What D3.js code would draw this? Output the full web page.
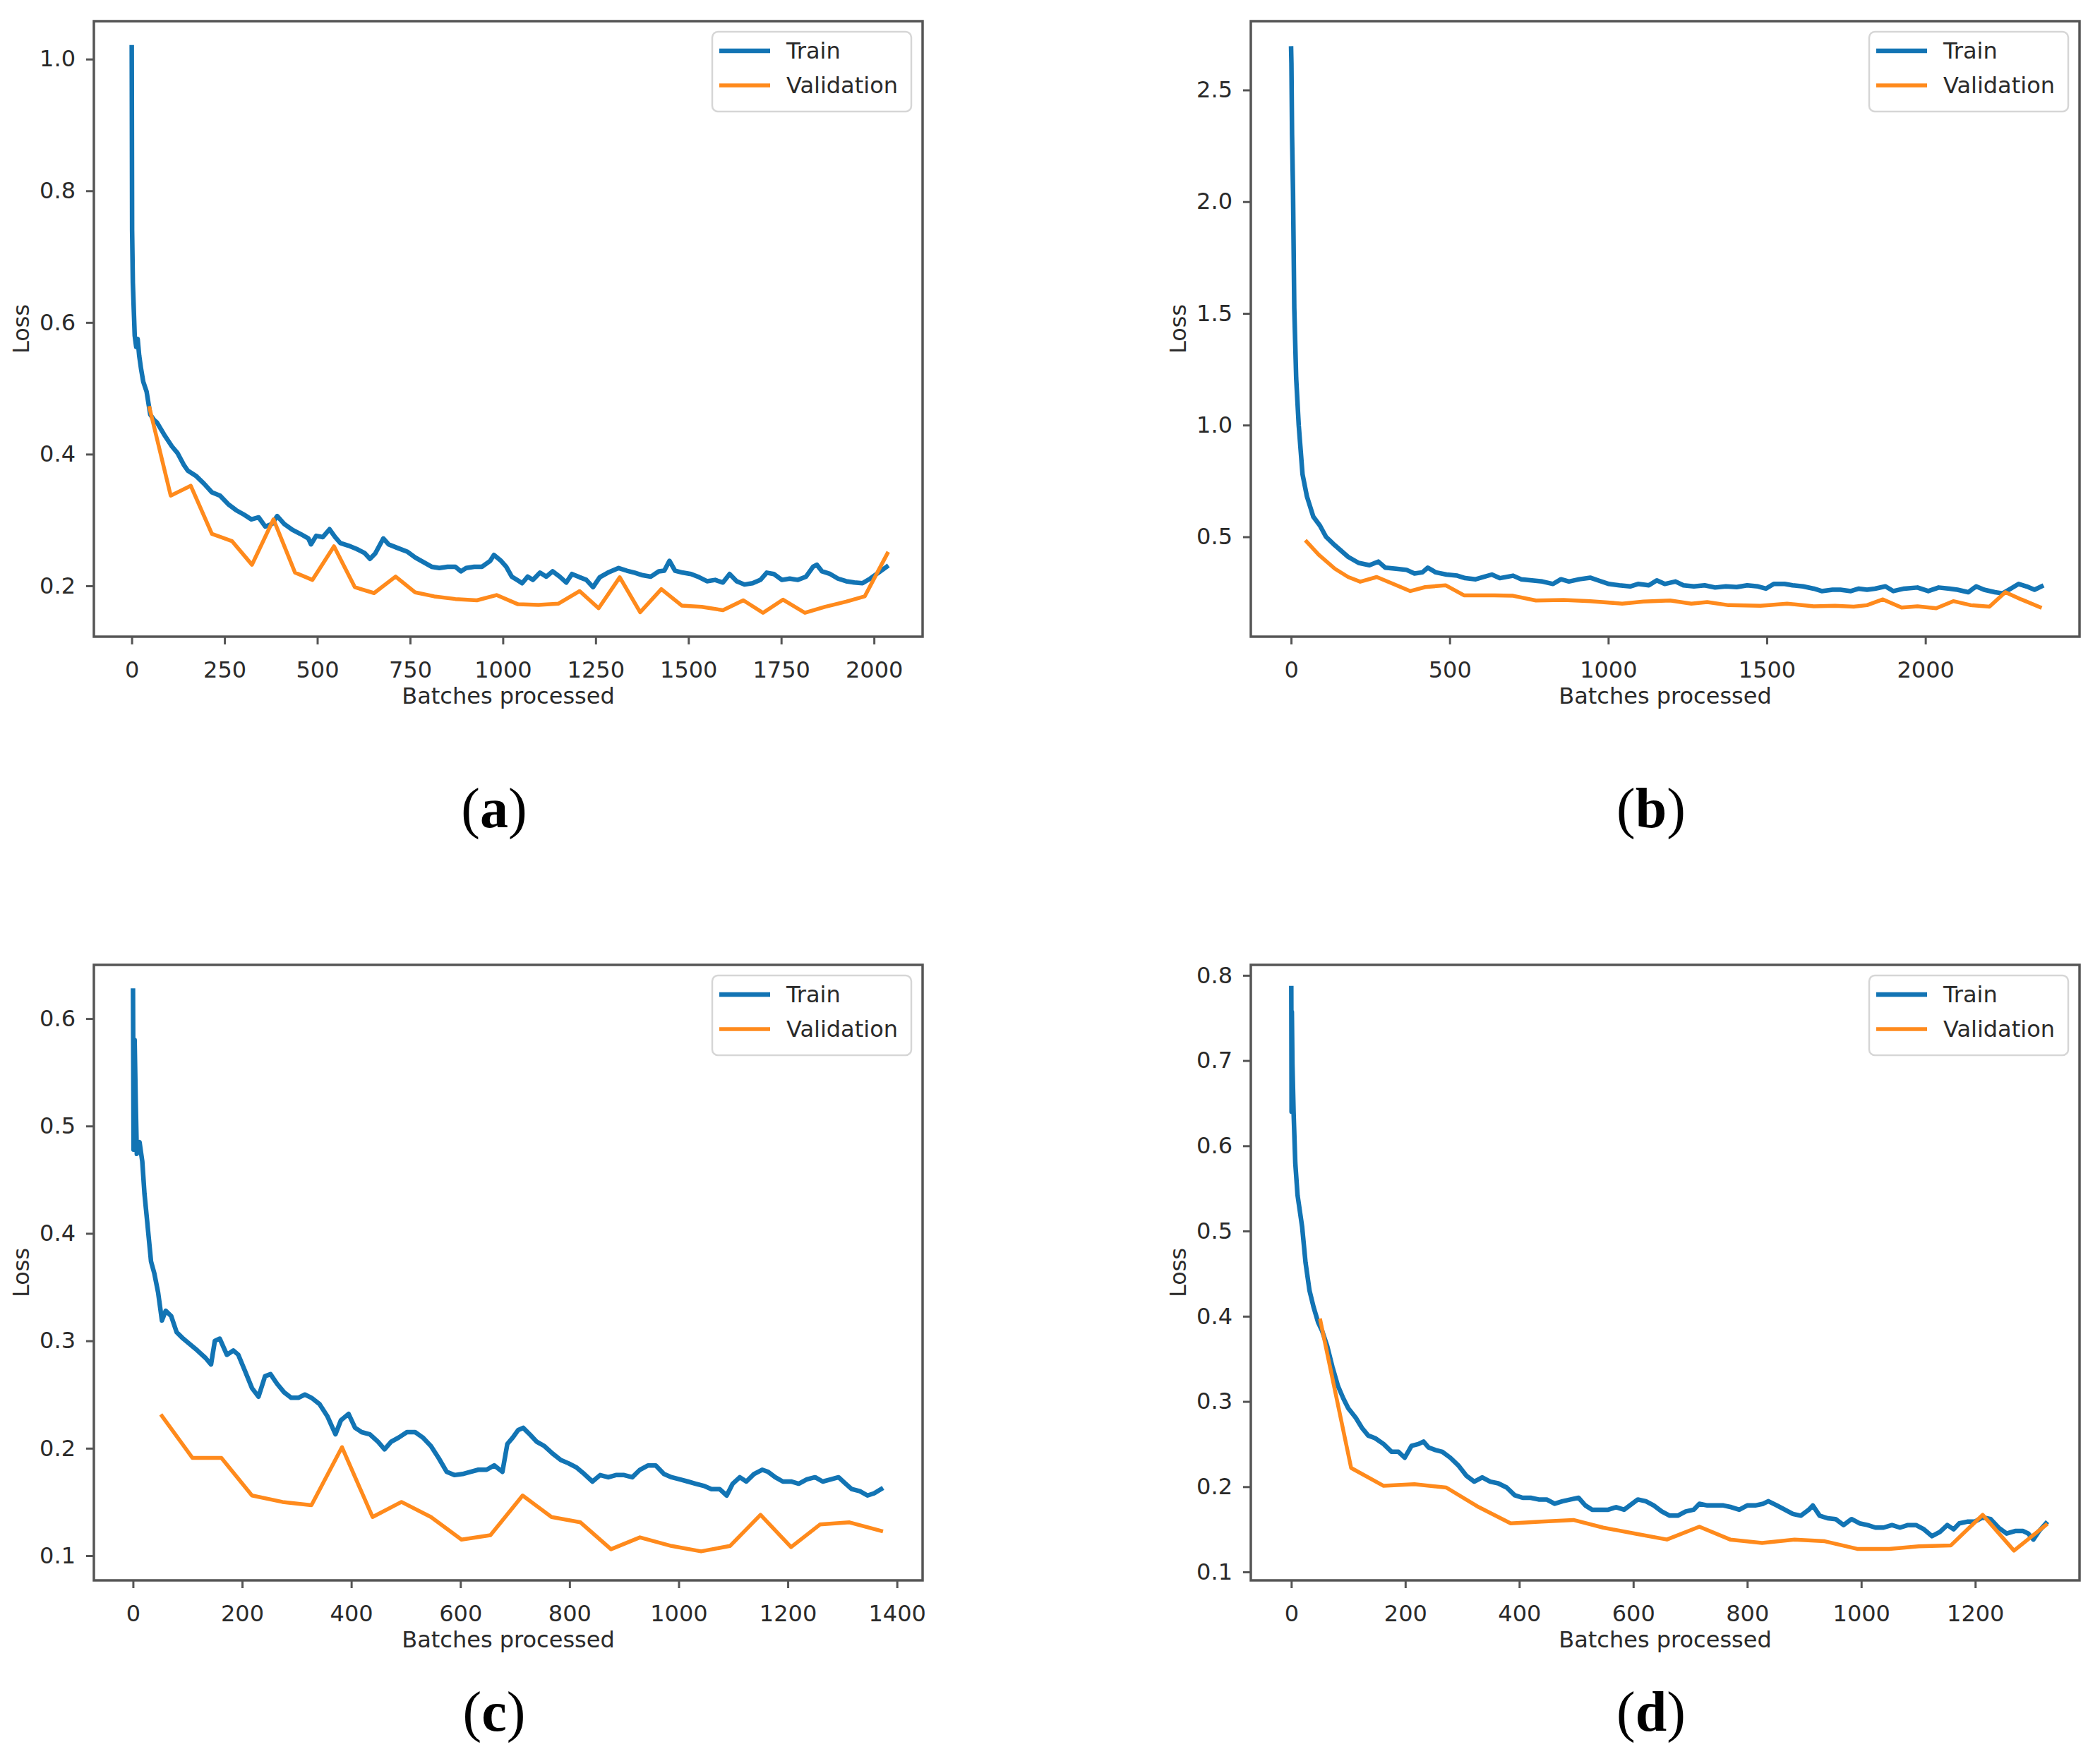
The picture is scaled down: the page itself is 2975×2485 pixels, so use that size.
<!DOCTYPE html>
<html>
<head>
<meta charset="utf-8">
<script src="https://cdn.jsdelivr.net/npm/d3@7/dist/d3.min.js"></script>
<style>
  html, body { margin: 0; padding: 0; background: #ffffff; }
  svg { display: block; }
</style>
</head>
<body>
<svg id="chart" width="2975" height="2485"></svg>
<script>
// ---------------- DATA ----------------
const seriesNames = ["Train", "Validation"];
const panelLabels = ["a", "b", "c", "d"];
const xLabel = "Batches processed";
const yLabel = "Loss";

const xTicksA = [0, 250, 500, 750, 1000, 1250, 1500, 1750, 2000];
const yTicksA = [0.2, 0.4, 0.6, 0.8, 1.0];
const xTicksB = [0, 500, 1000, 1500, 2000];
const yTicksB = [0.5, 1.0, 1.5, 2.0, 2.5];
const xTicksC = [0, 200, 400, 600, 800, 1000, 1200, 1400];
const yTicksC = [0.1, 0.2, 0.3, 0.4, 0.5, 0.6];
const xTicksD = [0, 200, 400, 600, 800, 1000, 1200];
const yTicksD = [0.1, 0.2, 0.3, 0.4, 0.5, 0.6, 0.7, 0.8];

// [batch, loss]
const trainA = [[0,1.018],[1,0.74],[3,0.66],[8,0.58],[12,0.563],[16,0.575],[20,0.55],[25,0.53],[31,0.51],[40,0.495],[50,0.46],[60,0.452],[68,0.448],[87,0.43],[108,0.412],[123,0.402],[140,0.384],[151,0.375],[173,0.367],[195,0.355],[216,0.342],[238,0.337],[260,0.324],[281,0.315],[303,0.308],[322,0.301],[342,0.304],[360,0.29],[378,0.294],[392,0.306],[411,0.294],[433,0.285],[454,0.279],[476,0.272],[483,0.263],[497,0.276],[515,0.274],[533,0.286],[548,0.274],[562,0.265],[584,0.261],[606,0.256],[627,0.25],[642,0.241],[656,0.249],[678,0.272],[692,0.263],[714,0.258],[742,0.252],[764,0.243],[786,0.236],[808,0.229],[829,0.227],[851,0.229],[872,0.229],[887,0.222],[901,0.227],[923,0.229],[944,0.229],[966,0.238],[976,0.247],[995,0.238],[1009,0.229],[1024,0.214],[1038,0.209],[1052,0.204],[1067,0.214],[1081,0.209],[1100,0.22],[1117,0.214],[1134,0.222],[1153,0.214],[1171,0.205],[1186,0.218],[1207,0.213],[1225,0.209],[1243,0.198],[1261,0.213],[1283,0.22],[1312,0.227],[1334,0.223],[1355,0.22],[1377,0.216],[1399,0.214],[1420,0.222],[1435,0.223],[1449,0.238],[1464,0.223],[1485,0.22],[1507,0.218],[1529,0.213],[1550,0.207],[1572,0.209],[1593,0.205],[1611,0.218],[1630,0.207],[1651,0.202],[1673,0.204],[1694,0.209],[1711,0.22],[1730,0.218],[1752,0.209],[1773,0.211],[1795,0.209],[1817,0.214],[1836,0.229],[1846,0.232],[1860,0.222],[1882,0.218],[1903,0.211],[1925,0.207],[1947,0.205],[1969,0.204],[1990,0.211],[2012,0.22],[2034,0.229]];
const valA = [[48,0.47],[105,0.337],[159,0.352],[216,0.279],[270,0.268],[324,0.232],[382,0.301],[440,0.22],[487,0.209],[545,0.26],[601,0.198],[653,0.189],[711,0.214],[764,0.19],[815,0.184],[872,0.18],[930,0.178],[983,0.186],[1041,0.172],[1096,0.171],[1150,0.173],[1207,0.192],[1258,0.166],[1315,0.213],[1370,0.16],[1427,0.195],[1482,0.17],[1536,0.168],[1593,0.163],[1648,0.178],[1701,0.159],[1755,0.179],[1814,0.159],[1867,0.168],[1925,0.176],[1975,0.184],[2036,0.249]];

const trainB = [[0,2.686],[1,2.62],[3,2.3],[6,2.05],[10,1.525],[16,1.21],[24,1.0],[36,0.78],[50,0.68],[70,0.59],[91,0.55],[110,0.5],[138,0.462],[180,0.41],[213,0.383],[247,0.373],[275,0.389],[297,0.362],[331,0.357],[364,0.352],[389,0.336],[414,0.341],[431,0.362],[456,0.341],[490,0.331],[524,0.326],[549,0.315],[582,0.31],[607,0.32],[633,0.331],[658,0.315],[700,0.326],[725,0.31],[759,0.305],[792,0.3],[826,0.289],[851,0.31],[876,0.3],[909,0.31],[943,0.317],[968,0.305],[1002,0.289],[1035,0.283],[1069,0.278],[1094,0.289],[1128,0.283],[1153,0.305],[1178,0.289],[1212,0.3],[1237,0.283],[1270,0.278],[1304,0.283],[1337,0.273],[1371,0.278],[1405,0.275],[1438,0.283],[1472,0.278],[1497,0.268],[1522,0.289],[1556,0.289],[1581,0.283],[1614,0.278],[1648,0.268],[1673,0.257],[1707,0.263],[1732,0.263],[1765,0.257],[1790,0.268],[1816,0.263],[1841,0.268],[1874,0.278],[1899,0.257],[1933,0.268],[1975,0.273],[2009,0.257],[2042,0.273],[2076,0.268],[2101,0.263],[2135,0.252],[2160,0.278],[2185,0.263],[2219,0.252],[2244,0.247],[2269,0.268],[2294,0.289],[2319,0.278],[2344,0.263],[2366,0.278]];
const valB = [[49,0.478],[87,0.42],[138,0.357],[180,0.32],[218,0.299],[270,0.32],[322,0.289],[376,0.257],[423,0.275],[487,0.283],[545,0.238],[641,0.238],[700,0.236],[772,0.215],[859,0.217],[943,0.212],[1044,0.201],[1111,0.21],[1195,0.215],[1262,0.201],[1312,0.208],[1379,0.194],[1480,0.191],[1564,0.201],[1648,0.189],[1715,0.191],[1774,0.187],[1816,0.194],[1866,0.22],[1925,0.183],[1975,0.189],[2034,0.18],[2088,0.212],[2143,0.194],[2202,0.187],[2252,0.252],[2302,0.22],[2361,0.185]];

const trainC = [[0,0.626],[0.5,0.559],[1,0.478],[3,0.58],[5,0.522],[7,0.474],[12,0.485],[17,0.467],[21,0.437],[26,0.411],[33,0.374],[39,0.363],[46,0.345],[53,0.319],[60,0.328],[70,0.323],[80,0.308],[92,0.302],[104,0.297],[118,0.291],[133,0.284],[143,0.278],[150,0.3],[159,0.302],[172,0.287],[184,0.291],[193,0.287],[206,0.271],[218,0.256],[230,0.248],[242,0.267],[252,0.269],[264,0.26],[277,0.252],[290,0.247],[303,0.247],[315,0.25],[327,0.247],[342,0.241],[356,0.23],[371,0.213],[381,0.226],[395,0.232],[407,0.219],[419,0.215],[434,0.213],[449,0.206],[461,0.199],[473,0.206],[487,0.21],[502,0.215],[517,0.215],[531,0.21],[546,0.202],[560,0.191],[575,0.178],[589,0.175],[604,0.176],[618,0.178],[633,0.18],[648,0.18],[662,0.184],[677,0.178],[686,0.204],[696,0.21],[706,0.217],[715,0.219],[727,0.213],[740,0.206],[754,0.202],[769,0.195],[784,0.189],[798,0.186],[813,0.182],[827,0.176],[842,0.169],[856,0.175],[871,0.173],[885,0.175],[900,0.175],[915,0.173],[929,0.18],[944,0.184],[958,0.184],[973,0.176],[987,0.173],[1002,0.171],[1017,0.169],[1031,0.167],[1046,0.165],[1060,0.162],[1075,0.162],[1088,0.156],[1099,0.167],[1112,0.173],[1124,0.169],[1138,0.176],[1153,0.18],[1164,0.178],[1177,0.173],[1191,0.169],[1206,0.169],[1220,0.167],[1235,0.171],[1250,0.173],[1264,0.169],[1279,0.171],[1293,0.173],[1306,0.167],[1317,0.162],[1332,0.16],[1346,0.156],[1358,0.158],[1371,0.162]];
const valC = [[53,0.23],[109,0.191],[162,0.191],[218,0.156],[274,0.15],[327,0.147],[383,0.201],[439,0.136],[492,0.15],[546,0.136],[602,0.115],[655,0.119],[714,0.156],[767,0.136],[820,0.131],[876,0.106],[929,0.117],[987,0.109],[1041,0.104],[1094,0.109],[1150,0.138],[1206,0.108],[1259,0.129],[1313,0.131],[1371,0.123]];

const trainD = [[0,0.785],[0.5,0.64],[1,0.757],[2,0.696],[4,0.64],[7,0.58],[11,0.542],[19,0.505],[25,0.463],[32,0.43],[39,0.411],[47,0.393],[54,0.383],[63,0.365],[72,0.341],[82,0.318],[91,0.304],[100,0.292],[113,0.281],[124,0.269],[135,0.26],[147,0.257],[162,0.25],[176,0.241],[188,0.241],[199,0.234],[211,0.248],[223,0.25],[232,0.253],[241,0.246],[253,0.243],[265,0.241],[279,0.234],[293,0.225],[307,0.213],[321,0.206],[335,0.211],[349,0.206],[363,0.204],[378,0.199],[392,0.19],[406,0.187],[420,0.187],[434,0.185],[448,0.185],[462,0.18],[476,0.183],[490,0.185],[504,0.187],[516,0.178],[528,0.173],[542,0.173],[556,0.173],[570,0.176],[584,0.173],[598,0.18],[608,0.185],[622,0.183],[636,0.178],[650,0.171],[664,0.166],[678,0.166],[692,0.171],[706,0.173],[716,0.18],[730,0.178],[744,0.178],[758,0.178],[772,0.176],[786,0.173],[800,0.178],[814,0.178],[828,0.18],[837,0.183],[852,0.178],[866,0.173],[880,0.168],[894,0.166],[908,0.173],[915,0.178],[927,0.166],[941,0.163],[955,0.162],[969,0.155],[983,0.162],[997,0.157],[1011,0.155],[1025,0.152],[1039,0.152],[1054,0.155],[1068,0.152],[1082,0.155],[1096,0.155],[1110,0.15],[1124,0.142],[1138,0.147],[1151,0.155],[1162,0.15],[1172,0.157],[1186,0.159],[1199,0.159],[1213,0.164],[1227,0.162],[1241,0.152],[1255,0.145],[1270,0.148],[1284,0.148],[1293,0.145],[1302,0.138],[1312,0.148],[1324,0.157]];
const valD = [[51,0.395],[105,0.222],[162,0.201],[216,0.203],[272,0.199],[329,0.176],[385,0.157],[439,0.159],[495,0.161],[547,0.152],[603,0.145],[659,0.138],[716,0.153],[770,0.138],[826,0.134],[883,0.138],[936,0.136],[993,0.127],[1049,0.127],[1101,0.13],[1157,0.131],[1213,0.167],[1268,0.125],[1324,0.155]];

// ---------------- LAYOUT / STYLE ----------------
const COLORS = { train: "#1274b4", val: "#ff8a1c" };
const TICK_FONT = "'DejaVu Sans', sans-serif";

const panels = [
  { label: panelLabels[0], train: trainA, val: valA, xTicks: xTicksA, yTicks: yTicksA,
    box: { l: 133, r: 1307, t: 30, b: 902 }, capY: 1172, xDom: [-102, 2131], yDom: [0.1228, 1.0576], yFmt: ".1f" },
  { label: panelLabels[1], train: trainB, val: valB, xTicks: xTicksB, yTicks: yTicksB,
    box: { l: 1772, r: 2946, t: 30, b: 902 }, capY: 1172, xDom: [-127, 2486], yDom: [0.053, 2.808], yFmt: ".1f" },
  { label: panelLabels[2], train: trainC, val: valC, xTicks: xTicksC, yTicks: yTicksC,
    box: { l: 133, r: 1307, t: 1367, b: 2239 }, capY: 2452, xDom: [-71.7, 1447], yDom: [0.077, 0.650], yFmt: ".1f" },
  { label: panelLabels[3], train: trainD, val: valD, xTicks: xTicksD, yTicks: yTicksD,
    box: { l: 1772, r: 2946, t: 1367, b: 2239 }, capY: 2452, xDom: [-71, 1383], yDom: [0.0901, 0.8123], yFmt: ".1f" }
];

const svg = d3.select("#chart");
svg.append("rect").attr("width", 2975).attr("height", 2485).attr("fill", "#ffffff");

panels.forEach(p => {
  const { l, r, t, b } = p.box;
  const x = d3.scaleLinear().domain(p.xDom).range([l, r]);
  const y = d3.scaleLinear().domain(p.yDom).range([b, t]);
  const g = svg.append("g");

  const clipId = "clip-" + p.label;
  g.append("clipPath").attr("id", clipId)
    .append("rect").attr("x", l).attr("y", t).attr("width", r - l).attr("height", b - t);

  const line = d3.line().x(d => x(d[0])).y(d => y(d[1]));
  const plot = g.append("g").attr("clip-path", `url(#${clipId})`);
  plot.append("path").datum(p.train)
    .attr("d", line).attr("fill", "none")
    .attr("stroke", COLORS.train).attr("stroke-width", 6.5)
    .attr("stroke-linejoin", "round").attr("stroke-linecap", "square");
  plot.append("path").datum(p.val)
    .attr("d", line).attr("fill", "none")
    .attr("stroke", COLORS.val).attr("stroke-width", 5.5)
    .attr("stroke-linejoin", "round").attr("stroke-linecap", "square");

  // axes
  const xAxis = d3.axisBottom(x).tickValues(p.xTicks).tickFormat(d3.format("d"))
    .tickSizeInner(11).tickSizeOuter(0).tickPadding(24);
  const yAxis = d3.axisLeft(y).tickValues(p.yTicks).tickFormat(d3.format(p.yFmt))
    .tickSizeInner(11).tickSizeOuter(0).tickPadding(15);

  const gx = g.append("g").attr("transform", `translate(0,${b})`).call(xAxis);
  const gy = g.append("g").attr("transform", `translate(${l},0)`).call(yAxis);
  [gx, gy].forEach(ax => {
    ax.select(".domain").remove();
    ax.selectAll(".tick line").attr("stroke", "#555").attr("stroke-width", 3);
    ax.selectAll(".tick text").attr("fill", "#2a2a2a")
      .style("font-family", TICK_FONT).style("font-size", "32px");
  });

  // frame
  g.append("rect").attr("x", l).attr("y", t).attr("width", r - l).attr("height", b - t)
    .attr("fill", "none").attr("stroke", "#555").attr("stroke-width", 3.5);

  // axis labels
  g.append("text").attr("x", (l + r) / 2).attr("y", b + 95)
    .attr("text-anchor", "middle").attr("fill", "#2a2a2a")
    .style("font-family", TICK_FONT).style("font-size", "32px").text(xLabel);
  g.append("text")
    .attr("transform", `translate(${l - 104},${(t + b) / 2}) rotate(-90)`)
    .attr("text-anchor", "middle").attr("dy", "0.36em").attr("fill", "#2a2a2a")
    .style("font-family", TICK_FONT).style("font-size", "32px").text(yLabel);

  // legend
  const lg = g.append("g").attr("transform", `translate(${r - 298},${t + 15})`);
  lg.append("rect").attr("x", 0).attr("y", 0).attr("width", 282).attr("height", 113)
    .attr("rx", 8).attr("fill", "#ffffff").attr("fill-opacity", 0.8)
    .attr("stroke", "#d6d6d6").attr("stroke-width", 2.5);
  const items = [
    { name: seriesNames[0], color: COLORS.train, w: 6.5 },
    { name: seriesNames[1], color: COLORS.val, w: 5.5 }
  ];
  items.forEach((it, i) => {
    const yy = 27 + i * 49;
    lg.append("line").attr("x1", 10).attr("x2", 82).attr("y1", yy).attr("y2", yy)
      .attr("stroke", it.color).attr("stroke-width", it.w);
    lg.append("text").attr("x", 105).attr("y", yy + 11).attr("fill", "#2a2a2a")
      .style("font-family", TICK_FONT).style("font-size", "32px").text(it.name);
  });

  // panel caption "(a)"
  const cap = svg.append("text").attr("x", (l + r) / 2 - 20).attr("y", p.capY)
    .attr("text-anchor", "middle").attr("fill", "#000")
    .style("font-family", "'Liberation Serif', 'Times New Roman', serif").style("font-size", "80px");
  cap.append("tspan").text("(");
  cap.append("tspan").style("font-weight", "bold").text(p.label);
  cap.append("tspan").text(")");
});
</script>
</body>
</html>
